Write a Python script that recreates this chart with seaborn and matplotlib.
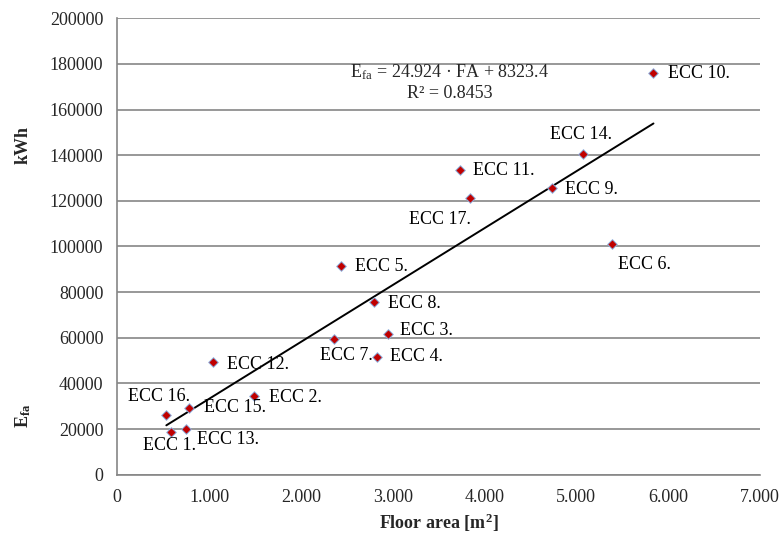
import numpy as np
import pandas as pd
from matplotlib import pyplot as plt
import seaborn as sns

names = ["ECC 1.", "ECC 2.", "ECC 3.", "ECC 4.", "ECC 5.", "ECC 6.", "ECC 7.", "ECC 8.", "ECC 9.",
         "ECC 10.", "ECC 11.", "ECC 12.", "ECC 13.", "ECC 14.", "ECC 15.", "ECC 16.", "ECC 17."]
floor_area = [581, 1490, 2953, 2830, 2437, 5392, 2364, 2800, 4737,
              5840, 3728, 1043, 752, 5075, 781, 534, 3837]
energy = [18800, 34300, 61600, 51700, 91500, 100900, 59400, 75500, 125400,
          175800, 133500, 49200, 20100, 140300, 29400, 26200, 121100]

slope = 24.924
intercept = 8323.4
r2 = 0.8453

x_ticks = [0, 1000, 2000, 3000, 4000, 5000, 6000, 7000]
x_tick_labels = ["0", "1.000", "2.000", "3.000", "4.000", "5.000", "6.000", "7.000"]
y_ticks = list(range(0, 200001, 20000))

df = pd.DataFrame({"name": names, "fa": floor_area, "e": energy})

sns.set_style("white")
plt.rcParams['font.family'] = ['Liberation Serif', 'DejaVu Serif']
plt.rcParams['mathtext.fontset'] = 'stix'

fig = plt.figure(figsize=(7.83, 5.4), dpi=100)
ax = fig.add_axes([0.1498, 0.1209, 0.8208, 0.8454])

# trend line over the data range
fit_x = np.array([min(floor_area), max(floor_area)])
fit = pd.DataFrame({"fa": fit_x, "e": slope * fit_x + intercept})
sns.lineplot(data=fit, x="fa", y="e", color="black", linewidth=1.4, ax=ax, zorder=2)

sns.scatterplot(data=df, x="fa", y="e", marker="D", s=24, color="#C00000",
                edgecolor="#8DB3E2", linewidth=0.7, ax=ax, zorder=3)

# label offsets in pixels: (dx, dy, ha)
offsets = {
    "ECC 1.": (-1, -14, "center"), "ECC 2.": (15, -1, "left"), "ECC 3.": (12, 4, "left"),
    "ECC 4.": (13, 0, "left"), "ECC 5.": (14, -1, "left"), "ECC 6.": (32, -20, "center"),
    "ECC 7.": (12, -16, "center"), "ECC 8.": (14, -1, "left"), "ECC 9.": (13, -1, "left"),
    "ECC 10.": (15, 0, "left"), "ECC 11.": (13, -1, "left"), "ECC 12.": (14, -2, "left"),
    "ECC 13.": (11, -11, "left"), "ECC 14.": (-2, 20, "center"), "ECC 15.": (15, 0, "left"),
    "ECC 16.": (-7, 18, "center"), "ECC 17.": (-30, -21, "center"),
}
for n, xv, yv in zip(names, floor_area, energy):
    dx, dy, ha = offsets[n]
    ax.annotate(n, (xv, yv), xytext=(dx, dy), textcoords="offset pixels",
                ha=ha, va="center", fontsize=13, color="black")

ax.text(3620, 176500, r"E$_{\mathregular{fa}}$ = %.3f · FA + %.1f" % (slope, intercept),
        ha="center", va="center", fontsize=13)
ax.text(3620, 167000, "R² = %.4f" % r2, ha="center", va="center", fontsize=13)

ax.set_xlim(0, 7000)
ax.set_ylim(0, 200000)
ax.set_xticks(x_ticks)
ax.set_xticklabels(x_tick_labels)
ax.set_yticks(y_ticks)
ax.set_yticklabels([str(v) for v in y_ticks])
ax.tick_params(axis="x", length=0, labelsize=13, pad=10)
ax.tick_params(axis="y", length=4, color="#868686", labelsize=13, pad=6)
ax.yaxis.grid(True, color="#868686", linewidth=1.2)
ax.xaxis.grid(False)
for side in ["top", "right"]:
    ax.spines[side].set_visible(False)
for side in ["left", "bottom"]:
    ax.spines[side].set_color("#868686")
    ax.spines[side].set_linewidth(1.2)

ax.set_xlabel(r"Floor area [m$^{\mathregular{2}}$]", fontsize=13, fontweight="bold", labelpad=4)
ax.set_ylabel("")
fig.text(0.03, 0.731, "kWh", rotation=90, ha="center", va="center", fontsize=13, fontweight="bold")
fig.text(0.03, 0.231, r"E$_{\mathregular{fa}}$", rotation=90, ha="center", va="center",
         fontsize=13, fontweight="bold")

plt.savefig("out.png", dpi=100)
